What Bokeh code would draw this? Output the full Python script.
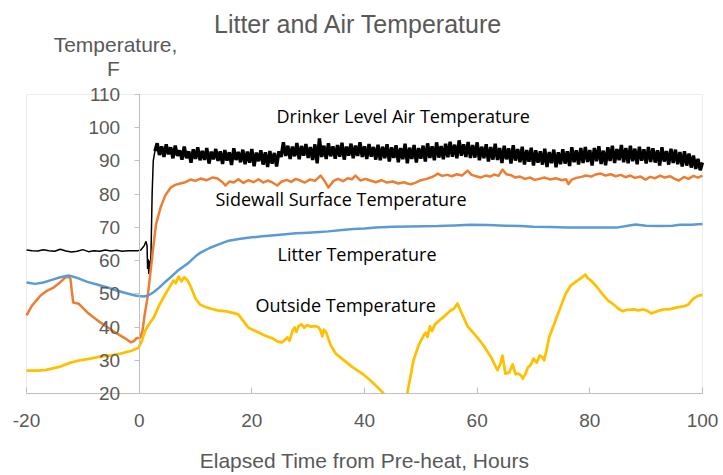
import numpy as np
from bokeh.plotting import figure
from bokeh.models import Range1d, FixedTicker, Label, BoxAnnotation
from bokeh.embed import file_html
from bokeh.resources import INLINE

# ---------------- data ----------------
x_ticks = [-20, 0, 20, 40, 60, 80, 100]
y_ticks = [20, 30, 40, 50, 60, 70, 80, 90, 100, 110]

# Drinker level air temperature, before the jump (hours, F)
drinker_pre_t = [-20, -19, -18, -17, -16, -15, -14, -13, -12, -11, -10, -9, -8, -7, -6,
                 -5, -4, -3, -2, -1, -0.2, 0.3, 0.9, 1.2, 1.4, 1.5, 1.6, 1.7, 1.8,
                 1.9, 2.0, 2.1, 2.3, 2.5, 2.8]
drinker_pre_v = [63.2, 63.0, 62.9, 63.3, 63.0, 62.8, 63.4, 62.9, 62.6, 62.8, 63.3, 62.7,
                 63.0, 62.8, 63.2, 62.9, 63.1, 62.8, 63.0, 63.0, 63.0, 63.2, 64.5, 65.8,
                 64.5, 57.5, 60.5, 56.0, 60.0, 56.5, 58.5, 62.0, 80.0, 90.0, 93.0]
# Drinker level air temperature, noisy part: samples every 0.4 h from 3.2 h
drinker_band_start = 3.2
drinker_band_step = 0.4
drinker_band_v = [
    95.3, 91.8, 94.4, 91.2, 95.0, 92.0, 94.1, 90.8, 94.6, 91.5,
    93.2, 90.4, 94.3, 90.8, 92.9, 89.5, 93.5, 90.6, 94.1, 90.2,
    93.0, 90.3, 93.9, 89.2, 92.8, 90.5, 93.6, 90.0, 92.9, 89.1,
    93.3, 90.1, 92.6, 88.8, 93.8, 90.3, 92.7, 89.6, 93.4, 89.0,
    92.8, 89.5, 93.6, 88.4, 92.5, 89.9, 93.2, 88.9, 92.6, 88.2,
    93.0, 89.2, 92.4, 88.3, 92.9, 91.2, 95.6, 91.5, 94.6, 90.6,
    94.3, 91.4, 95.4, 90.5, 94.5, 91.6, 95.1, 90.9, 94.2, 90.3,
    95.0, 89.3, 96.8, 91.2, 94.6, 90.6, 95.3, 91.4, 94.4, 90.7,
    94.8, 91.3, 95.5, 90.4, 94.3, 91.6, 95.2, 90.8, 94.6, 91.5,
    95.6, 91.2, 94.4, 90.6, 95.1, 91.3, 94.2, 90.4, 94.9, 90.2,
    94.3, 90.8, 95.0, 89.8, 94.1, 90.9, 94.7, 89.6, 93.9, 90.5,
    95.2, 89.3, 94.0, 90.6, 94.8, 89.5, 93.9, 90.7, 94.6, 89.8,
    95.3, 90.9, 94.4, 90.2, 95.6, 91.0, 94.5, 90.5, 95.2, 91.1,
    95.8, 91.3, 94.9, 90.8, 96.2, 91.6, 95.0, 91.2, 95.7, 90.9,
    94.8, 91.0, 95.6, 90.2, 94.3, 90.8, 95.0, 89.8, 94.2, 90.4,
    95.2, 90.3, 93.9, 89.4, 94.6, 90.5, 93.8, 89.2, 94.7, 90.1,
    93.6, 89.6, 94.3, 88.9, 93.3, 89.8, 94.0, 88.6, 93.2, 89.5,
    92.9, 88.9, 93.7, 88.2, 92.7, 89.3, 93.4, 88.1, 92.6, 89.0,
    93.5, 89.2, 92.9, 88.5, 94.1, 89.6, 93.2, 88.9, 93.9, 89.4,
    94.2, 89.7, 93.3, 88.6, 93.9, 89.9, 94.4, 89.1, 93.1, 88.7,
    94.1, 90.0, 94.6, 89.4, 93.6, 90.2, 94.8, 89.6, 93.9, 89.3,
    94.6, 89.9, 93.7, 89.0, 94.3, 90.1, 93.5, 89.2, 94.2, 89.7,
    93.8, 89.5, 93.2, 88.6, 94.1, 89.8, 93.0, 88.9, 93.7, 89.4,
    93.4, 89.0, 92.7, 88.3, 92.9, 88.6, 92.2, 88.0, 91.6, 87.6,
    90.6, 87.2, 89.5]

sidewall_t = [-20, -19, -18, -17.5, -16.5, -15.2, -14, -13.2, -12.6, -12.2, -11.9, -11.7,
              -10.7, -10, -9.2, -8, -6.9, -5.5, -3.9, -2.5, -1.5, -0.9, -0.5, 0.2, 0.6,
              1.0, 1.4, 1.7, 2.1, 2.5, 3.0, 3.8, 4.6, 5.6, 6.4, 7.3, 8.2, 9.1, 10, 10.9,
              12, 13, 13.9, 14.8, 15.3, 16, 16.8, 17.6, 18.5, 19.4, 20.3, 21.2, 22, 22.8,
              23.6, 24.5, 25.3, 26.2, 27, 27.8, 28.6, 29.4, 30.3, 31.2, 32.2, 32.9, 33.6,
              34.5, 35.3, 36.2, 37, 37.8, 38.4, 39.3, 40.2, 41, 42, 43, 44, 45, 46, 47,
              47.6, 48.2, 49, 50, 51, 51.7, 52.5, 53, 53.8, 54.7, 55.5, 56.4, 57.3, 58.3,
              59, 59.8, 60.6, 61.5, 62.3, 63, 63.8, 64.5, 65.2, 66, 66.8, 67.6, 68.5,
              69.4, 70.2, 71, 72, 73, 74, 75, 75.8, 76.2, 76.8, 77.6, 78.5, 79.3, 80.2,
              81, 81.9, 82.8, 83.7, 84.6, 85.5, 86.3, 87.2, 88, 89, 89.9, 90.7, 91.6,
              92.5, 93.3, 94.2, 95, 95.8, 96.7, 97.5, 98.4, 99.2, 100]
sidewall_v = [43.5, 46.5, 48.5, 49.5, 50.8, 51.9, 53.5, 54.8, 55.2, 54.5, 50.0, 47.4,
              47.0, 45.8, 44.4, 42.8, 41.4, 39.8, 38.0, 36.6, 35.4, 35.8, 36.6, 36.8, 39.0,
              44.0, 48.0, 51.9, 58.0, 64.0, 71.0, 76.0, 79.5, 82.0, 82.8, 83.2, 83.6, 84.4,
              84.0, 84.7, 84.2, 85.0, 84.7, 83.6, 82.6, 83.8, 83.5, 84.5, 83.4, 84.2, 83.6,
              84.5, 83.5, 84.1, 83.6, 82.6, 83.8, 84.3, 83.7, 84.6, 84.1, 83.5, 84.4, 84.0,
              85.6, 84.0, 82.0, 84.0, 84.6, 83.9, 84.8, 84.5, 85.6, 84.1, 84.6, 84.1, 83.6,
              84.2, 83.5, 83.8, 83.2, 83.6, 83.2, 83.0, 83.4, 84.2, 84.6, 85.0, 85.6, 86.2,
              85.5, 85.8, 85.4, 86.0, 85.6, 87.1, 85.8, 85.4, 85.0, 85.6, 85.3, 85.9, 85.5,
              87.4, 86.0, 85.7, 85.0, 85.3, 84.6, 85.0, 84.3, 84.6, 85.0, 84.4, 84.8, 84.2,
              84.5, 83.0, 84.4, 84.9, 85.2, 85.6, 85.3, 85.9, 86.2, 85.6, 86.0, 85.4, 85.8,
              85.1, 85.6, 84.9, 85.3, 84.4, 85.2, 84.8, 85.6, 85.0, 85.4, 84.7, 84.1, 85.2,
              84.6, 85.5, 85.0, 85.6]

litter_t = [-20, -18.5, -17, -15.5, -14, -12.5, -11, -9.2, -7.5, -5.6, -4, -2.1, -0.5, 0.8,
            1.6, 2.5, 3.5, 4.5, 5.6, 7, 8.6, 10, 10.9, 12.5, 14, 15.9, 18, 20, 21.9, 24,
            26, 27.8, 30, 32, 33.6, 36, 38, 40, 42, 45, 48, 53, 56, 58.8, 62, 65, 67.7,
            70, 73, 76, 80, 85, 87, 88.1, 90, 92.5, 94.7, 96, 98, 100]
litter_v = [53.4, 53.0, 53.4, 54.2, 55.0, 55.5, 54.8, 53.6, 52.8, 51.9, 51.0, 50.1, 49.4,
            49.2, 49.5, 50.4, 51.8, 53.4, 55.0, 57.2, 59.1, 61.3, 62.4, 63.8, 64.8, 66.0,
            66.6, 67.0, 67.3, 67.6, 67.9, 68.2, 68.4, 68.6, 68.8, 69.2, 69.5, 69.7, 70.0,
            70.2, 70.3, 70.4, 70.6, 70.8, 70.7, 70.5, 70.4, 70.2, 70.1, 70.0, 70.0, 70.0,
            70.6, 70.9, 70.5, 70.4, 70.5, 70.8, 70.8, 71.0]

# values below the 20 F axis floor are not visible in the source: left as a gap
NA = float("nan")
outside_t = [-20, -18, -16.5, -15.5, -14, -12.2, -10.5, -8.7, -6.9, -5, -3.3, -1.5, -0.1,
             0.5, 1.1, 1.8, 2.6, 3.4, 4.3, 5.2, 6.1, 6.5, 7.0, 7.5, 8.0, 8.6, 9.2, 10.0,
             10.8, 11.8, 12.8, 13.9, 15.5, 16.8, 17.6, 18.4, 19.4, 21.0, 22.5, 23.7, 24.6,
             25.3, 25.8, 26.3, 26.7, 27.2, 27.6, 27.9, 28.3, 28.8, 29.3, 29.8, 30.5, 31.2,
             31.8, 32.2, 32.5, 32.8, 33.2, 34.0, 34.9, 36.2, 37.8, 39.6, 41.0, 42.0, 43.4,
             45.5, 47.6, 48.7, 49.6, 50.5, 50.9, 51.2, 51.6, 52.0, 52.5, 53.5, 54.4,
             55.3, 55.9, 56.5, 57.3, 58.3, 59.2, 60.0, 60.8, 61.5, 62.5, 63.6, 64.1, 64.5,
             65.0, 65.7, 66.3, 66.8, 67.2, 67.7, 68.1, 68.6, 69.0, 69.5, 70.0, 70.6, 71.1,
             71.6, 71.9, 72.3, 72.8, 73.9, 74.8, 75.7, 76.6, 77.4, 78.3, 78.8, 79.2, 79.6,
             80.2, 81.2, 82.2, 83.2, 84.2, 85.1, 85.8, 86.7, 87.8, 88.6, 89.5, 90.2, 90.9,
             92.0, 93.1, 94.3, 95.5, 96.6, 97.5, 98.4, 99.2, 100.0]
outside_v = [26.9, 26.9, 27.1, 27.5, 28.1, 29.3, 30.0, 30.5, 31.1, 31.5, 32.0, 32.8, 33.8,
             36.0, 39.0, 41.0, 42.9, 46.0, 48.9, 51.5, 54.0, 53.2, 55.2, 53.8, 55.0, 54.0,
             52.0, 48.6, 46.8, 46.0, 45.5, 45.0, 44.7, 44.2, 43.8, 42.0, 39.8, 38.5, 37.3,
             36.6, 35.6, 35.4, 36.0, 36.9, 35.9, 38.8, 39.9, 38.5, 40.3, 40.8, 39.8, 40.6,
             40.1, 40.3, 40.0, 39.0, 37.2, 39.2, 38.4, 34.5, 32.0, 30.2, 28.0, 26.0, 24.0,
             22.4, 20.0, NA, 20.0, 30.0, 34.5, 37.5, 38.3, 37.0, 40.2, 38.8, 40.8,
             42.3, 43.6, 45.0, 45.6, 47.1, 44.0, 40.2, 38.5, 36.9, 35.2, 33.5, 30.8, 27.0,
             28.8, 31.4, 26.0, 26.3, 28.8, 25.8, 26.0, 25.6, 24.5, 26.0, 27.8, 28.6, 30.5,
             29.3, 31.4, 30.9, 30.0, 33.0, 37.0, 42.0, 46.0, 50.0, 52.5, 53.5, 54.6, 55.2,
             55.8, 54.8, 54.0, 52.2, 50.0, 48.0, 46.8, 45.5, 44.8, 45.2, 45.3, 45.0, 45.3,
             44.9, 44.1, 44.8, 45.3, 45.4, 45.9, 46.2, 46.8, 48.6, 49.4, 49.7]

title_text = "Litter and Air Temperature"
y_title_lines = ["Temperature,", "F"]
x_title = "Elapsed Time from Pre-heat, Hours"
series_labels = ["Drinker Level Air Temperature", "Sidewall Surface Temperature",
                 "Litter Temperature", "Outside Temperature"]

# ---------------- styling / layout ----------------
GRAY_TXT = "#595959"
GRAY_LN = "#BFBFBF"
AX_FONT = "Liberation Sans"
LBL_FONT = "Open Sans"

W, H = 723, 475
# pixel positions of the axis box inside the canvas
BOX_L, BOX_R, BOX_T, BOX_B = 26, 702, 94, 393
x0, x1 = x_ticks[0], x_ticks[-1]
y0, y1 = y_ticks[0], y_ticks[-1]
sx = (BOX_R - BOX_L) / (x1 - x0)
sy = (BOX_B - BOX_T) / (y1 - y0)
xr = Range1d(x0 - BOX_L / sx, x1 + (W - BOX_R) / sx)
yr = Range1d(y0 - (H - BOX_B) / sy, y1 + BOX_T / sy)


def px_to_data(cx, cy):
    return x0 + (cx - BOX_L) / sx, y0 + (BOX_B - cy) / sy


drinker_band_t = list(np.round(
    drinker_band_start + drinker_band_step * np.arange(len(drinker_band_v)), 2))

p = figure(width=W, height=H, x_range=xr, y_range=yr,
           toolbar_location=None, output_backend="svg", title=None,
           min_border_left=0, min_border_right=0, min_border_top=0,
           min_border_bottom=0)
p.background_fill_color = "white"
p.border_fill_color = "white"
p.outline_line_color = None
p.xgrid.visible = False
p.ygrid.visible = False

p.add_layout(BoxAnnotation(left=x0, right=x1, bottom=y0, top=y1, fill_color=None,
                           line_color=GRAY_LN, line_width=1, level="underlay"))

p.line(drinker_pre_t, drinker_pre_v, line_color="black", line_width=1.5)
p.line([drinker_pre_t[-1]] + drinker_band_t, [drinker_pre_v[-1]] + drinker_band_v,
       line_color="black", line_width=3.4)
p.line(sidewall_t, sidewall_v, line_color="#ED7D31", line_width=2.5, line_join="round")
p.line(litter_t, litter_v, line_color="#5B9BD5", line_width=2.5, line_join="round")
p.line(outside_t, outside_v, line_color="#FFC000", line_width=2.75, line_join="round")

# x axis along y = 20
xa = p.xaxis[0]
xa.fixed_location = y0
xa.bounds = (x0, x1)
xa.ticker = FixedTicker(ticks=x_ticks)
xa.major_label_overrides = {t: str(t) for t in x_ticks}
xa.major_tick_in = 6
xa.major_tick_out = 0
xa.minor_tick_line_color = None
xa.axis_line_color = GRAY_LN
xa.major_tick_line_color = GRAY_LN
xa.major_label_text_font = AX_FONT
xa.major_label_text_font_size = "19px"
xa.major_label_text_color = GRAY_TXT
xa.major_label_standoff = 20

# y axis drawn at x = 0, inside the box
ya = p.yaxis[0]
ya.fixed_location = 0
ya.bounds = (y0, y1)
ya.ticker = FixedTicker(ticks=y_ticks)
ya.major_tick_in = 0
ya.major_tick_out = 5
ya.minor_tick_line_color = None
ya.axis_line_color = GRAY_LN
ya.major_tick_line_color = GRAY_LN
ya.major_label_text_font = AX_FONT
ya.major_label_text_font_size = "19px"
ya.major_label_text_color = GRAY_TXT
ya.major_label_standoff = 14


def add_text(cx, cy, text, size, color, font, align):
    dx, dy = px_to_data(cx, cy)
    p.add_layout(Label(x=dx, y=dy, text=text, text_align=align,
                       text_baseline="alphabetic", text_font=font,
                       text_font_size=size, text_color=color))


add_text(358, 23, title_text, "25px", GRAY_TXT, AX_FONT, "center")
add_text(115, 44, y_title_lines[0], "21px", GRAY_TXT, AX_FONT, "center")
add_text(113, 68, y_title_lines[1], "21px", GRAY_TXT, AX_FONT, "center")
add_text(364, 460, x_title, "21px", GRAY_TXT, AX_FONT, "center")

label_px = [(276, 115), (215, 198), (277, 253), (255, 304)]
for txt, (cx, cy) in zip(series_labels, label_px):
    add_text(cx, cy, txt, "18px", "black", LBL_FONT, "left")

open("out.html", "w").write(file_html(p, INLINE))
